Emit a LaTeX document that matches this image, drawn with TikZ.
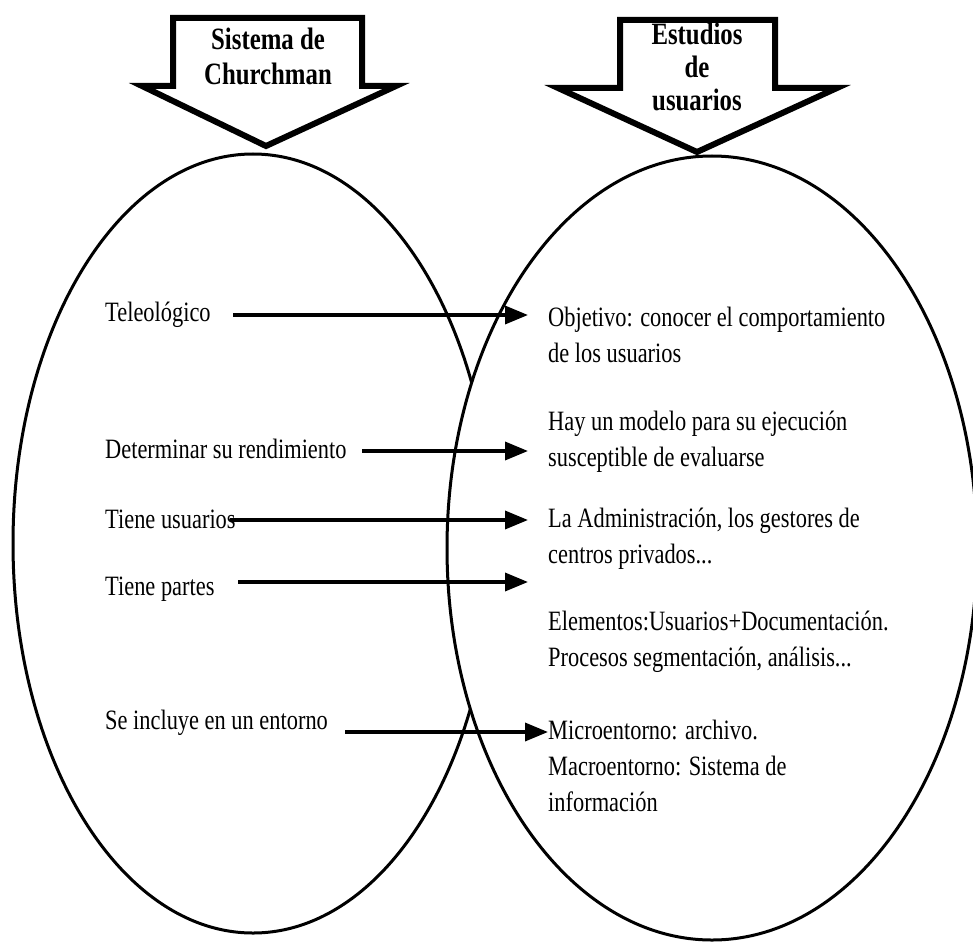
\documentclass[tikz,border=0pt]{standalone}
\usepackage{fontspec}
\setmainfont{Liberation Serif}[FakeStretch=0.8]
\usetikzlibrary{arrows.meta}
\newcommand\cstack[1]{\vtop{\halign{\hfil##\hfil\cr#1\crcr}}}
\newcommand\lstack[1]{\vtop{\halign{##\hfil\cr#1\crcr}}}
\begin{document}
\begin{tikzpicture}[x=1pt,y=-1pt,
  oval/.style={line width=3pt},
  blockarrow/.style={line width=6pt, fill=white, line join=miter},
  title/.style={font=\fontsize{31}{35}\selectfont\bfseries, inner sep=0pt, anchor=base},
  lbl/.style={font=\fontsize{28}{36}\selectfont, inner sep=0pt, anchor=base west},
  link/.style={line width=3.5pt, -{Triangle[length=23pt,width=18pt]}}]
\useasboundingbox (0,0) rectangle (973,941);
% ellipses
\draw[oval] (253,543.5) ellipse [x radius=240, y radius=389.5];
\draw[oval, fill=white] (712,548) ellipse [x radius=265, y radius=392];
% block arrows
\draw[blockarrow] (173,18) -- (362,18) -- (362,86) -- (396,86) -- (266,146) -- (142,86) -- (173,86) -- cycle;
\draw[blockarrow] (620,20) -- (775,20) -- (775,88) -- (837,88) -- (697,152) -- (558,88) -- (620,88) -- cycle;
\node[title] (t1) at (268,50) {\cstack{Sistema de\cr Churchman}};
\node[title, font=\fontsize{31}{33}\selectfont\bfseries] (t2) at (697,45) {\cstack{Estudios\cr de\cr usuarios}};
% left labels
\node[lbl] (a1) at (105,321) {Teleológico};
\node[lbl] (a2) at (105,458) {Determinar su rendimiento};
\node[lbl] (a3) at (105,528) {Tiene usuarios};
\node[lbl] (a4) at (105,595) {Tiene partes};
\node[lbl] (a5) at (105,729) {Se incluye en un entorno};
% right labels
\node[lbl] (b1) at (548,326) {\lstack{Objetivo: conocer el comportamiento\cr de los usuarios}};
\node[lbl] (b2) at (548,430) {\lstack{Hay un modelo para su ejecución\cr susceptible de evaluarse}};
\node[lbl] (b3) at (548,527) {\lstack{La Administración, los gestores de\cr centros privados...}};
\node[lbl] (b4) at (548,630) {\lstack{Elementos:Usuarios+Documentación.\cr Procesos segmentación, análisis...}};
\node[lbl] (b5) at (548,739) {\lstack{Microentorno: archivo.\cr Macroentorno: Sistema de\cr información}};
% connector ends
\coordinate (s1) at (233,315); \coordinate (e1) at (528,315);
\coordinate (s2) at (362,451); \coordinate (e2) at (528,451);
\coordinate (s3) at (230,520); \coordinate (e3) at (528,520);
\coordinate (s4) at (238,582); \coordinate (e4) at (528,582);
\coordinate (s5) at (345,732); \coordinate (e5) at (548,732);
\draw[link] (s1) -- (e1);
\draw[link] (s2) -- (e2);
\draw[link] (s3) -- (e3);
\draw[link] (s4) -- (e4);
\draw[link] (s5) -- (e5);
\end{tikzpicture}
\end{document}
